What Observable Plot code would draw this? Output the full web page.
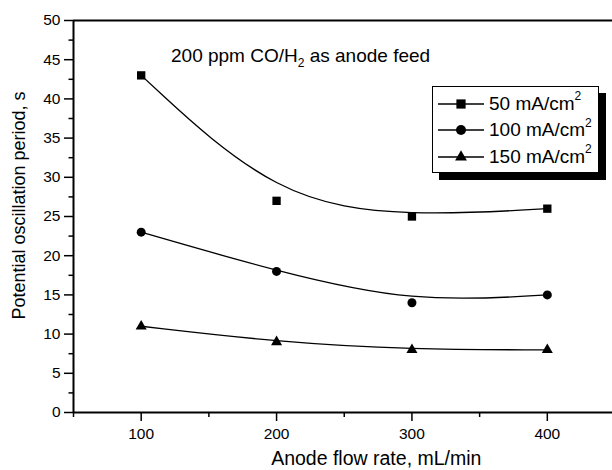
<!DOCTYPE html>
<html>
<head>
<meta charset="utf-8">
<script src="https://cdn.jsdelivr.net/npm/d3@7"></script>
<script src="https://cdn.jsdelivr.net/npm/@observablehq/plot@0.6"></script>
<style>
  html, body { margin: 0; padding: 0; background: #fff; }
  #wrap { position: relative; width: 612px; height: 470px; overflow: hidden; font-family: "Liberation Sans", Arial, sans-serif; color: #000; }
  #note { position: absolute; left: 171px; top: 46px; font-size: 19px; line-height: 19px; white-space: nowrap; }
  #note .sub { font-size: 12px; position: relative; top: 5px; line-height: 0; }
  #legend { position: absolute; left: 432px; top: 86px; width: 165px; height: 85px; border: 1.3px solid #000; background: #fff; box-shadow: 7px 7px 0 #000; box-sizing: content-box; padding: 0; }
  #legend .row { height: 26.5px; display: flex; align-items: center; font-size: 19px; white-space: nowrap; }
  #legend .row svg { margin-left: 5px; margin-right: 5px; flex: none; }
  #legend sup { font-size: 12px; line-height: 0; position: relative; top: -2px; }
  #legend .rows { padding-top: 3.5px; }
</style>
</head>
<body>
<div id="wrap"></div>
<script>
// ---- data ----
const flowRates = [100, 200, 300, 400];
const series50 = [43, 27, 25, 26];
const series100 = [23, 18, 14, 15];
const series150 = [11, 9, 8, 8];
const seriesNames = ["50 mA/cm", "100 mA/cm", "150 mA/cm"];
const seriesSymbols = ["square", "circle", "triangle"];
const xDomain = [50, 450];
const yDomain = [0, 50];
const xMajorTicks = [100, 200, 300, 400];
const xMinorTicks = [50, 150, 250, 350, 450];
const yMajorTicks = [0, 5, 10, 15, 20, 25, 30, 35, 40, 45, 50];
const yMinorTicks = [2.5, 7.5, 12.5, 17.5, 22.5, 27.5, 32.5, 37.5, 42.5, 47.5];
const xTitle = "Anode flow rate, mL/min";
const yTitle = "Potential oscillation period, s";

const allSeries = [series50, series100, series150];
const rows = [];
allSeries.forEach((vals, si) => {
  vals.forEach((v, i) => rows.push({ flow: flowRates[i], value: v, series: seriesNames[si] }));
});

const dotSizes = { "50 mA/cm": 4.7, "100 mA/cm": 4.5, "150 mA/cm": 4.1 };

const marks = [];
marks.push(Plot.line(rows, { x: "flow", y: "value", z: "series", curve: "basis", stroke: "#000", strokeWidth: 1.3 }));
seriesNames.forEach((name, si) => {
  marks.push(Plot.dot(rows.filter(d => d.series === name), {
    x: "flow", y: "value", symbol: () => seriesSymbols[si], r: dotSizes[name], fill: "#000", stroke: "none"
  }));
});

marks.push(
  Plot.axisY({ ticks: yMajorTicks, tickSize: 9, tickPadding: 4, fontSize: 15.5, label: null, strokeWidth: 1.5 }),
  Plot.axisY({ ticks: yMinorTicks, tickSize: 4.5, tickFormat: () => "", label: null, strokeWidth: 1.5 }),
  Plot.axisX({ ticks: xMajorTicks, tickSize: 9, tickPadding: 6, fontSize: 15.5, label: null, strokeWidth: 1.5 }),
  Plot.axisX({ ticks: xMinorTicks, tickSize: 5, tickFormat: () => "", label: null, strokeWidth: 1.5 }),
  Plot.ruleX([xDomain[0]], { stroke: "#000", strokeWidth: 2 }),
  Plot.ruleY([yDomain[0], yDomain[1]], { stroke: "#000", strokeWidth: 2 }),
  Plot.text([yTitle], { text: d => d, frameAnchor: "left", textAnchor: "middle", lineAnchor: "middle", rotate: -90, dx: -54.5, dy: -11, fontSize: 18 }),
  Plot.text([xTitle], { text: d => d, frameAnchor: "bottom", textAnchor: "middle", lineAnchor: "middle", dx: 32, dy: 46.5, fontSize: 19.5 })
);

const chart = Plot.plot({
  width: 612,
  height: 470,
  marginLeft: 73,
  marginRight: -2.5,
  marginTop: 20,
  marginBottom: 58,
  x: { domain: xDomain },
  y: { domain: yDomain },
  style: { fontFamily: "'Liberation Sans', Arial, sans-serif", color: "#000", background: "#fff", overflow: "visible" },
  marks
});

const wrap = document.getElementById("wrap");
wrap.appendChild(chart);

// annotation
const note = document.createElement("div");
note.id = "note";
note.innerHTML = '200 ppm CO/H<span class="sub">2</span> as anode feed';
wrap.appendChild(note);

// legend
const legend = document.createElement("div");
legend.id = "legend";
const rowsDiv = document.createElement("div");
rowsDiv.className = "rows";
const symbolMap = { square: d3.symbolSquare, circle: d3.symbolCircle, triangle: d3.symbolTriangle };
const legendSizes = [5.2, 5.0, 4.4];
seriesNames.forEach((name, si) => {
  const row = document.createElement("div");
  row.className = "row";
  const r = legendSizes[si];
  const path = d3.symbol(symbolMap[seriesSymbols[si]], Math.PI * r * r)();
  row.innerHTML = `<svg width="46" height="16" viewBox="0 0 46 16"><line x1="0" x2="46" y1="8" y2="8" stroke="#000" stroke-width="1.3"/><path d="${path}" transform="translate(23,8)" fill="#000"/></svg><span>${name}<sup>2</sup></span>`;
  rowsDiv.appendChild(row);
});
legend.appendChild(rowsDiv);
wrap.appendChild(legend);
</script>
</body>
</html>
